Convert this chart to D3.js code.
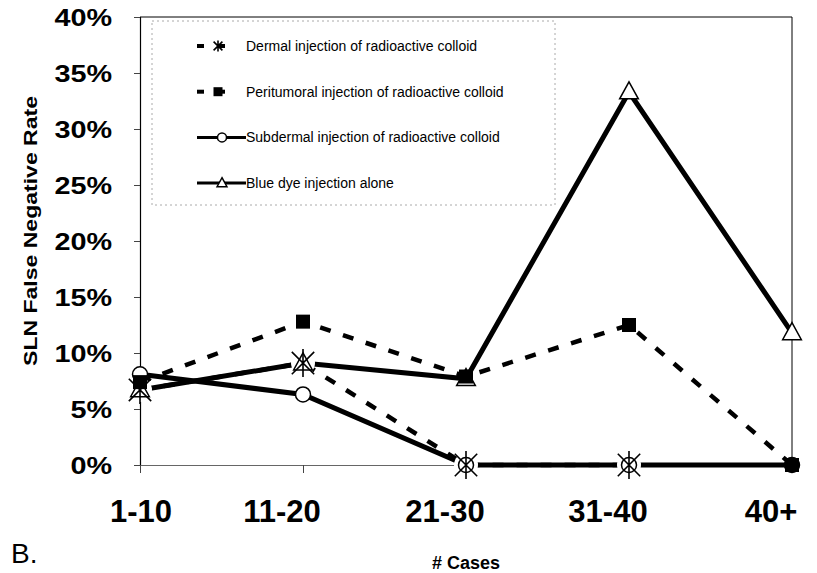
<!DOCTYPE html>
<html>
<head>
<meta charset="utf-8">
<script src="https://cdn.jsdelivr.net/npm/d3@7"></script>
<style>
  body { margin: 0; background: #fff; }
  svg { font-family: "Liberation Sans", Arial, sans-serif; }
  .tick-lbl { font-weight: bold; fill: #000; }
  .legend-text { font-size: 14px; fill: #000; }
</style>
</head>
<body>
<div id="chart"></div>
<script>

// data
var categories = ["1-10", "11-20", "21-30", "31-40", "40+"];
var yTicks = [0, 0.05, 0.10, 0.15, 0.20, 0.25, 0.30, 0.35, 0.40];
var dermal      = [0.067, 0.091, 0.0, 0.0, null];
var peritumoral = [0.074, 0.128, 0.079, 0.125, 0.0];
var subdermal   = [0.081, 0.063, 0.0, 0.0, 0.0];
var blueDye     = [0.067, 0.091, 0.077, 0.333, 0.118];

var seriesNames = [
    "Dermal injection of radioactive colloid",
    "Peritumoral injection of radioactive colloid",
    "Subdermal injection of radioactive colloid",
    "Blue dye injection alone"
];

var series = [
    { name: seriesNames[0], values: dermal, dashed: true, marker: "asterisk" },
    { name: seriesNames[1], values: peritumoral, dashed: true, marker: "square" },
    { name: seriesNames[2], values: subdermal, dashed: false, marker: "circle" },
    { name: seriesNames[3], values: blueDye, dashed: false, marker: "triangle" }
];

var margin = { top: 17, right: 25, bottom: 108, left: 140 };
var width = 817 - margin.left - margin.right;
var height = 573 - margin.top - margin.bottom;

var svg = d3.select("#chart").append("svg")
    .attr("width", 817)
    .attr("height", 573);

var g = svg.append("g")
    .attr("transform", "translate(" + margin.left + "," + margin.top + ")");

var x = d3.scalePoint()
    .domain(categories)
    .range([0, 652]);

var y = d3.scaleLinear()
    .domain([0, 0.40])
    .range([height, 0]);

// plot border (top + right)
g.append("line")
    .attr("x1", 0).attr("x2", x("40+"))
    .attr("y1", 0).attr("y2", 0)
    .attr("stroke", "#000").attr("stroke-width", 1);
g.append("line")
    .attr("x1", x("40+")).attr("x2", x("40+"))
    .attr("y1", 0).attr("y2", height)
    .attr("stroke", "#000").attr("stroke-width", 1);

// legend box
var legend = g.append("g").attr("transform", "translate(12,4)");
legend.append("rect")
    .attr("width", 403).attr("height", 184)
    .attr("fill", "#fff")
    .attr("stroke", "#aaa").attr("stroke-width", 1)
    .attr("stroke-dasharray", "2,3");

// y axis
var yAxis = d3.axisLeft(y)
    .tickValues(yTicks)
    .tickSize(6)
    .tickFormat(d3.format(".0%"));

var yG = g.append("g").call(yAxis);
yG.select(".domain").attr("stroke", "#000").attr("stroke-width", 1.2);
yG.selectAll(".tick line").attr("stroke", "#444");
yG.selectAll(".tick text")
    .attr("class", "tick-lbl")
    .style("font-size", "24px")
    .attr("x", -28 / 1.2)
    .attr("dy", "0.36em")
    .attr("transform", "scale(1.2,1)");

// x axis
var xAxis = d3.axisBottom(x)
    .tickSize(8)
    .tickSizeOuter(0)
    .tickFormat("");

var xG = g.append("g")
    .attr("transform", "translate(0," + height + ")")
    .call(xAxis);
xG.select(".domain").attr("stroke", "#666").attr("stroke-width", 1);
xG.selectAll(".tick line").attr("stroke", "#444");

// category labels
g.selectAll(".x-lbl")
    .data(categories)
    .enter().append("text")
    .attr("class", "tick-lbl x-lbl")
    .style("font-size", "31px")
    .attr("x", function(d, i) { return x(d) - (i === 0 ? -1 : 21); })
    .attr("y", height + 57)
    .attr("text-anchor", "middle")
    .text(function(d) { return d; });

// axis titles
svg.append("text")
    .attr("transform", "translate(37,231) rotate(-90) scale(1.28,1)")
    .attr("text-anchor", "middle")
    .style("font-weight", "bold")
    .style("font-size", "18px")
    .text("SLN False Negative Rate");

svg.append("text")
    .attr("x", 466).attr("y", 569)
    .attr("text-anchor", "middle")
    .style("font-weight", "bold")
    .style("font-size", "18px")
    .text("# Cases");

svg.append("text")
    .attr("x", 11).attr("y", 563)
    .style("font-size", "28px")
    .text("B.");

// lines
var line = d3.line()
    .defined(function(d) { return d.v !== null; })
    .x(function(d) { return x(d.c); })
    .y(function(d) { return y(d.v); });

function pts(s) {
    return s.values.map(function(v, i) { return { c: categories[i], v: v }; });
}

series.forEach(function(s) {
    g.append("path")
        .datum(pts(s))
        .attr("d", line)
        .attr("fill", "none")
        .attr("stroke", "#000")
        .attr("stroke-width", s.dashed ? 4.5 : 5)
        .attr("stroke-dasharray", s.dashed ? "11,13" : null);
});

// marker drawing
function drawMarker(sel, type, size) {
    if (type === "square") {
        sel.append("rect")
            .attr("x", -size / 2).attr("y", -size / 2)
            .attr("width", size).attr("height", size)
            .attr("fill", "#000");
    } else if (type === "circle") {
        sel.append("circle")
            .attr("r", size / 2)
            .attr("fill", "#fff")
            .attr("stroke", "#000").attr("stroke-width", 1.5);
    } else if (type === "triangle") {
        var h = size;
        sel.append("path")
            .attr("d", "M0," + (-h * 0.6) + "L" + (h * 0.55) + "," + (h * 0.4) + "L" + (-h * 0.55) + "," + (h * 0.4) + "Z")
            .attr("fill", "#fff")
            .attr("stroke", "#000").attr("stroke-width", 1.5);
    } else if (type === "asterisk") {
        var r = size / 2;
        var a = r * 0.8;
        sel.append("path")
            .attr("d", "M" + (-a) + "," + (-a) + "L" + a + "," + a +
                       "M" + a + "," + (-a) + "L" + (-a) + "," + a +
                       "M0," + (-r) + "L0," + r)
            .attr("stroke", "#000").attr("stroke-width", 1.6)
            .attr("fill", "none");
    }
}

// white halos behind asterisks
g.selectAll(".halo")
    .data(pts(series[0]).filter(function(d) { return d.v !== null; }))
    .enter().append("circle")
    .attr("cx", function(d) { return x(d.c); })
    .attr("cy", function(d) { return y(d.v); })
    .attr("r", 12)
    .attr("fill", "#fff");

var markerSize = { square: 14, circle: 15, triangle: 17, asterisk: 28 };
var drawOrder = [2, 3, 1, 0];

drawOrder.forEach(function(k) {
    var s = series[k];
    pts(s).filter(function(d) { return d.v !== null; }).forEach(function(d) {
        var mg = g.append("g")
            .attr("transform", "translate(" + x(d.c) + "," + y(d.v) + ")");
        drawMarker(mg, s.marker, markerSize[s.marker]);
    });
});

// legend entries
series.forEach(function(s, i) {
    var row = legend.append("g")
        .attr("transform", "translate(0," + (25 + i * 45.7) + ")");
    if (s.dashed) {
        row.append("line")
            .attr("x1", 45).attr("x2", 52)
            .attr("stroke", "#000").attr("stroke-width", 4);
        row.append("line")
            .attr("x1", 66).attr("x2", 73)
            .attr("stroke", "#000").attr("stroke-width", 4);
    } else {
        row.append("line")
            .attr("x1", 45).attr("x2", 94)
            .attr("stroke", "#000").attr("stroke-width", 3);
    }
    var mg = row.append("g").attr("transform", "translate(" + (s.dashed ? 66 : 70) + ",0)");
    drawMarker(mg, s.marker, s.marker === "asterisk" ? 11 : 9);
    row.append("text")
        .attr("class", "legend-text")
        .attr("x", 94)
        .attr("dy", "0.35em")
        .text(s.name);
});

</script>
</body>
</html>
